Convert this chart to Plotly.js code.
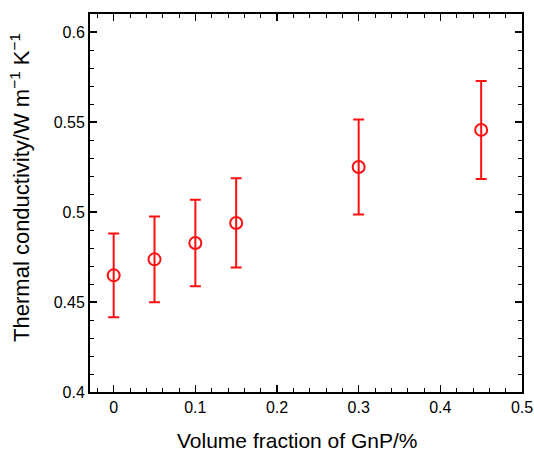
<!DOCTYPE html>
<html><head><meta charset="utf-8">
<script src="https://cdn.plot.ly/plotly-3.0.1.min.js"></script>
<style>html,body{margin:0;padding:0;background:#fff}#chart{width:534px;height:451px}</style>
</head><body><div id="chart"></div>
<script>
const volumeFraction = [0, 0.05, 0.1, 0.15, 0.3, 0.45];
const conductivity = [0.4648, 0.4737, 0.4828, 0.4939, 0.525, 0.5456];
const errorBar = [0.0233, 0.0238, 0.024, 0.0248, 0.0264, 0.0272];
const xTicks = [0, 0.1, 0.2, 0.3, 0.4, 0.5];
const yTicks = [0.4, 0.45, 0.5, 0.55, 0.6];
const xTitle = 'Volume fraction of GnP/%';
const yTitle = 'Thermal conductivity/W m<sup>−1</sup> K<sup>−1</sup>';

const font = {family: 'Liberation Sans, Arial, sans-serif', color: '#000'};
const trace = {
  x: volumeFraction, y: conductivity, type: 'scatter', mode: 'markers',
  marker: {symbol: 'circle-open', size: 12, color: '#ff1010', line: {width: 2, color: '#ff1010'}},
  error_y: {type: 'data', array: errorBar, visible: true, color: '#ff1010', thickness: 2, width: 5.5},
  showlegend: false
};
const axisCommon = {
  showgrid: false, zeroline: false, showline: true, linecolor: '#000', linewidth: 2,
  mirror: 'allticks', ticks: 'inside', ticklen: 7, tickwidth: 1.3, tickcolor: '#000',
  tickfont: Object.assign({size: 16}, font)
};
const layout = {
  width: 534, height: 451,
  margin: {l: 90, r: 12, t: 14, b: 59},
  paper_bgcolor: '#fff', plot_bgcolor: '#fff',
  xaxis: Object.assign({}, axisCommon, {
    range: [-0.029, 0.5], tickvals: xTicks, ticktext: xTicks.map(String),
    minor: {dtick: 0.02, tick0: 0, ticks: 'inside', ticklen: 4, tickwidth: 1, tickcolor: '#000'}
  }),
  yaxis: Object.assign({}, axisCommon, {
    range: [0.4, 0.61], tickvals: yTicks, ticktext: ['0.4', '0.45', '0.5', '0.55', '0.6'],
    minor: {dtick: 0.01, tick0: 0.4, ticks: 'inside', ticklen: 4, tickwidth: 1, tickcolor: '#000'}
  }),
  annotations: [
    {text: xTitle, xref: 'paper', yref: 'paper', x: 0.479, y: -0.127, xanchor: 'center', yanchor: 'middle',
     showarrow: false, font: Object.assign({size: 21}, font)},
    {text: yTitle, xref: 'paper', yref: 'paper', x: -0.162, y: 0.54, xanchor: 'center', yanchor: 'middle',
     textangle: -90, showarrow: false, font: Object.assign({size: 22}, font)}
  ]
};
Plotly.newPlot('chart', [trace], layout, {displayModeBar: false, staticPlot: true});
</script></body></html>
